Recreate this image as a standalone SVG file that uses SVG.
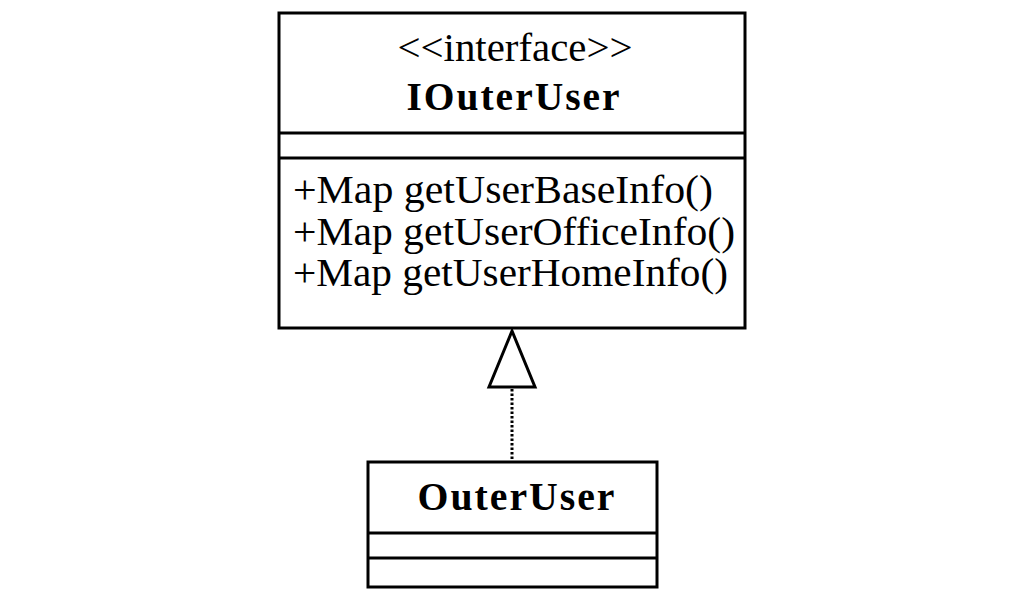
<svg xmlns="http://www.w3.org/2000/svg" width="1019" height="603" viewBox="0 0 1019 603">
<style>
.box{fill:#fff;stroke:#000;stroke-width:3}
.sep{stroke:#000;stroke-width:3}
.t{font-family:"Liberation Serif","Times New Roman",serif;fill:#000}
.n{font-weight:bold;letter-spacing:2px}
</style>
<rect width="1019" height="603" fill="#fff"/>
<g id="IOuterUser">
<rect class="box" x="279" y="13" width="466" height="315"/>
<line class="sep" x1="279" y1="133" x2="745" y2="133"/>
<line class="sep" x1="279" y1="158" x2="745" y2="158"/>
<text class="t" x="515" y="61" font-size="40" text-anchor="middle" textLength="235" lengthAdjust="spacingAndGlyphs">&lt;&lt;interface&gt;&gt;</text>
<text class="t n" x="514" y="110" font-size="40" text-anchor="middle" textLength="215" lengthAdjust="spacingAndGlyphs">IOuterUser</text>
<text class="t" x="293" y="203" font-size="39" textLength="420" lengthAdjust="spacingAndGlyphs">+Map getUserBaseInfo()</text>
<text class="t" x="293" y="245" font-size="39" textLength="442" lengthAdjust="spacingAndGlyphs">+Map getUserOfficeInfo()</text>
<text class="t" x="293" y="286" font-size="39" textLength="435" lengthAdjust="spacingAndGlyphs">+Map getUserHomeInfo()</text>
</g>
<g id="OuterUser">
<rect class="box" x="368" y="462" width="289" height="125"/>
<line class="sep" x1="368" y1="533" x2="657" y2="533"/>
<line class="sep" x1="368" y1="558" x2="657" y2="558"/>
<text class="t n" x="517" y="510" font-size="40" text-anchor="middle" textLength="199" lengthAdjust="spacingAndGlyphs">OuterUser</text>
</g>
<g id="connectors">
<line x1="512" y1="389" x2="512" y2="460" stroke="#000" stroke-width="3" stroke-dasharray="2.5,2"/>
<polygon points="512,331 489,387 535,387" fill="#fff" stroke="#000" stroke-width="3" stroke-linejoin="miter"/>
</g>
</svg>
